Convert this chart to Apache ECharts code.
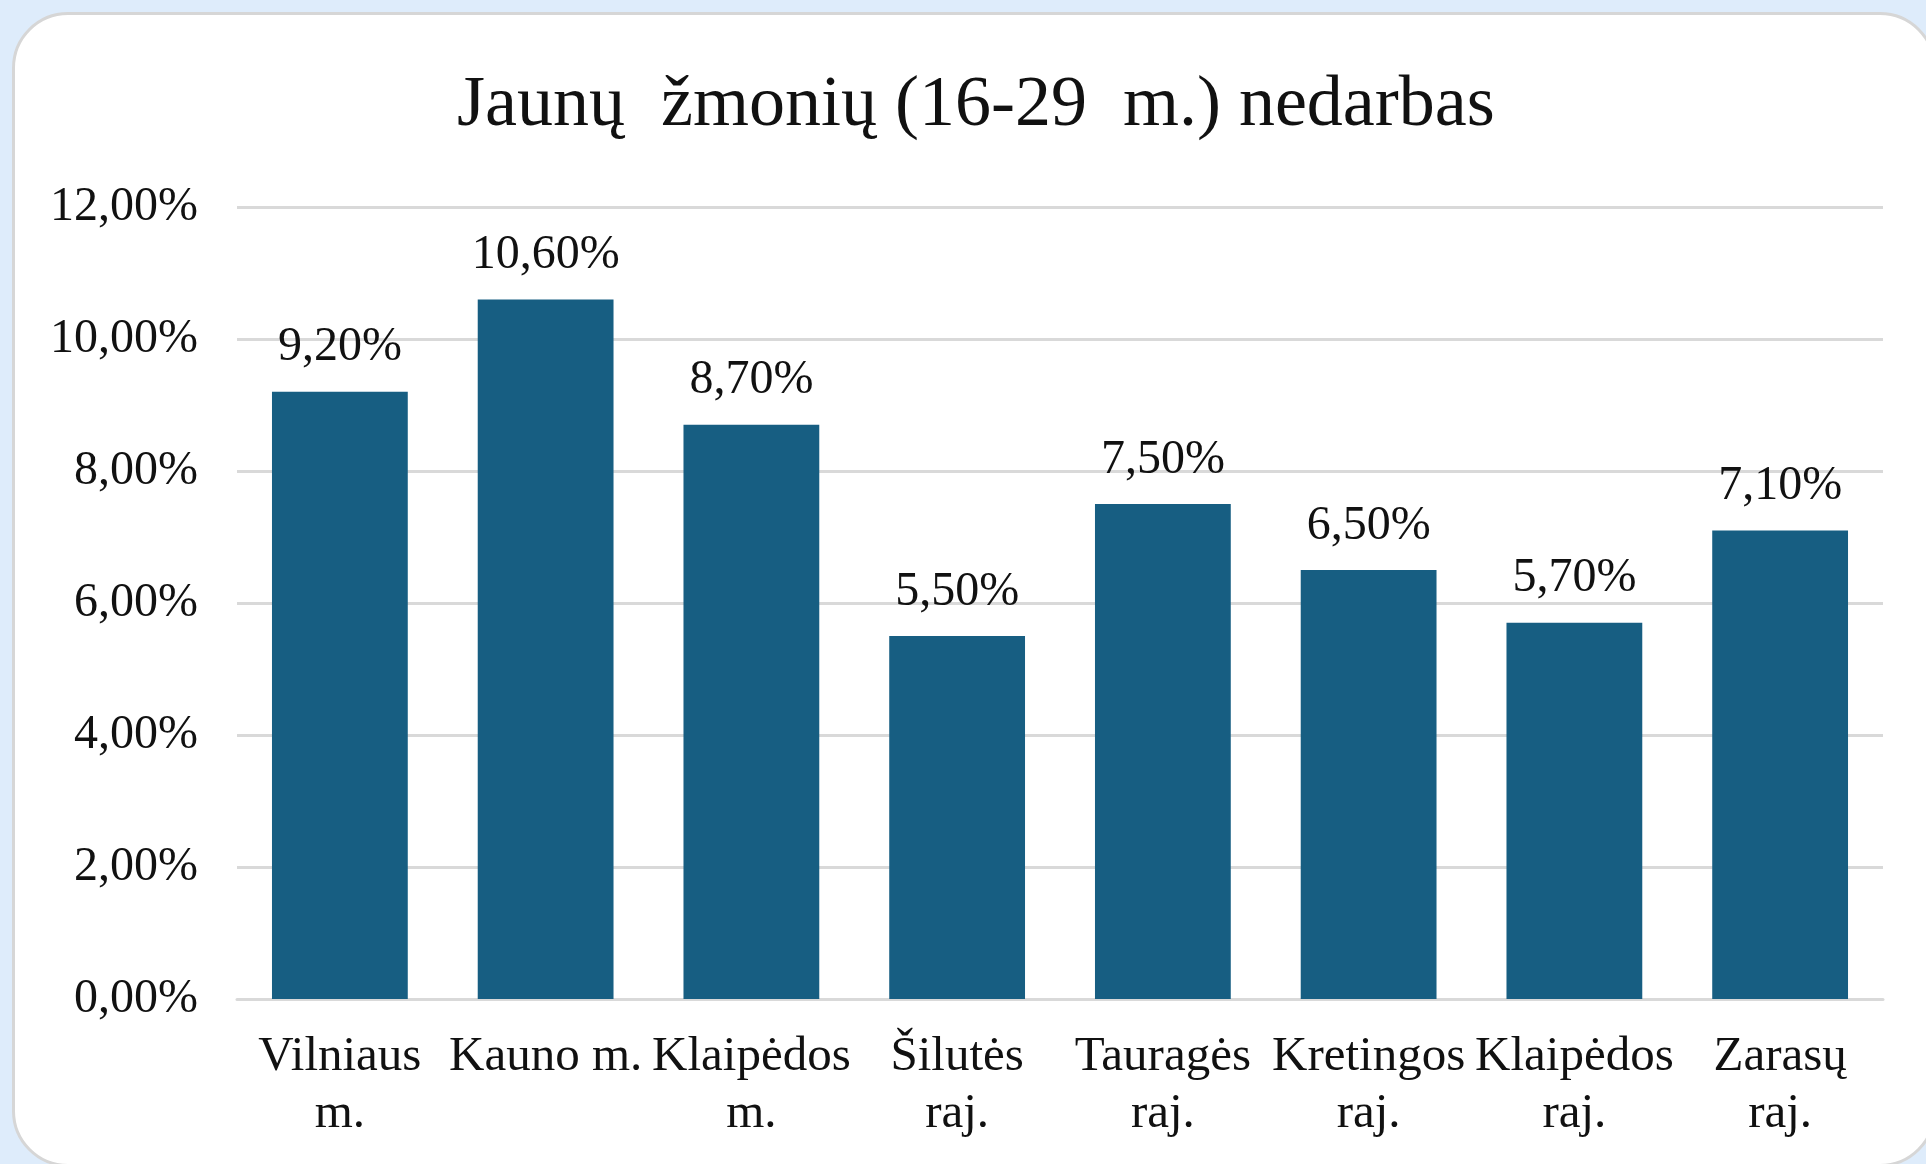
<!DOCTYPE html>
<html>
<head>
<meta charset="utf-8">
<script src="https://cdn.jsdelivr.net/npm/echarts@6/dist/echarts.min.js"></script>
<style>
	html, body { margin: 0; padding: 0; width: 1926px; height: 1164px; overflow: hidden; background: #deecfb; }
	#card {
		position: absolute; left: 12px; top: 12px; width: 1924px; height: 1155px;
		background: #fff; border: 3px solid #d6d6d6; border-radius: 56px; box-sizing: border-box;
	}
	#chart { position: absolute; left: 0; top: 0; width: 1926px; height: 1164px; }
</style>
</head>
<body>
<div id="card"></div>
<div id="chart"></div>
<script>
// categories, as they wrap under the bars
const regions = [
	'Vilniaus\nm.',
	'Kauno m.',
	'Klaipėdos\nm.',
	'Šilutės\nraj.',
	'Tauragės\nraj.',
	'Kretingos\nraj.',
	'Klaipėdos\nraj.',
	'Zarasų\nraj.'
]

// youth unemployment, %
const unemployment = [9.2, 10.6, 8.7, 5.5, 7.5, 6.5, 5.7, 7.1]

const yTicks = [0, 2, 4, 6, 8, 10, 12]

const titleText = 'Jaunų  žmonių (16-29  m.) nedarbas'

const font = "'Liberation Serif', 'Times New Roman', serif"

function pct(v) {
	return Number(v).toFixed(2).replace('.', ',') + '%'
}

// title sits centred on the card, a little right of the canvas centre
const ctx = document.createElement('canvas').getContext('2d')
ctx.font = '72px ' + font
const titleLeft = Math.round(976 - ctx.measureText(titleText).width / 2) - 5

const myChart = echarts.init(document.getElementById('chart'), null, { renderer: 'canvas' })

myChart.setOption({
	backgroundColor: 'transparent',
	animation: false,
	title: {
		text: titleText,
		left: titleLeft,
		top: 65,
		textStyle: {
			fontFamily: font,
			fontSize: 72,
			fontWeight: 'normal',
			color: '#111'
		}
	},
	grid: {
		left: 237,
		right: 43,
		top: 207,
		bottom: 165
	},
	xAxis: {
		type: 'category',
		data: regions,
		axisTick: { show: false },
		axisLine: { lineStyle: { color: '#d9d9d9', width: 3 } },
		axisLabel: {
			interval: 0,
			margin: 30,
			fontFamily: font,
			fontSize: 49,
			lineHeight: 57,
			color: '#111'
		}
	},
	yAxis: {
		type: 'value',
		min: yTicks[0],
		max: yTicks[yTicks.length - 1],
		interval: 2,
		axisLine: { show: false },
		axisTick: { show: false },
		splitLine: { lineStyle: { color: '#d9d9d9', width: 3 } },
		axisLabel: {
			margin: 39,
			fontFamily: font,
			fontSize: 48,
			color: '#111',
			formatter: pct
		}
	},
	series: [{
		type: 'bar',
		data: unemployment,
		barWidth: '66%',
		itemStyle: { color: '#175e82' },
		label: {
			show: true,
			position: 'top',
			distance: 20,
			fontFamily: font,
			fontSize: 48,
			color: '#111',
			formatter: p => pct(p.value)
		}
	}]
})
</script>
</body>
</html>
